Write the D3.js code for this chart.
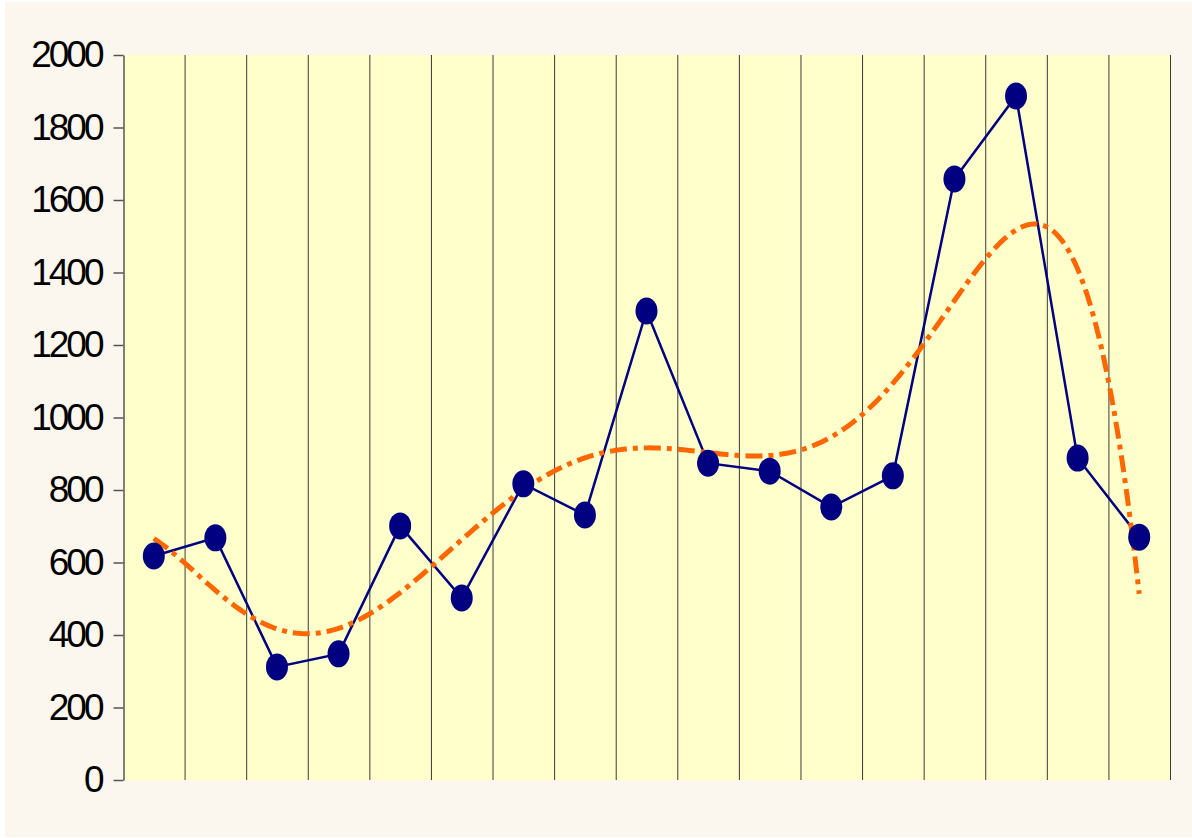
<!DOCTYPE html>
<html>
<head>
<meta charset="utf-8">
<script src="https://cdn.jsdelivr.net/npm/d3@7"></script>
<style>
  html, body { margin: 0; padding: 0; background: #ffffff; }
  svg { display: block; }
</style>
</head>
<body>
<div id="chart"></div>
<script>
// values, one per category (17 periods)
const categories = d3.range(1, 18)
const values = [618, 668, 312, 348, 701, 502, 817, 731, 1294, 874, 852, 753, 839, 1658, 1887, 888, 670]
const yTicks = [0, 200, 400, 600, 800, 1000, 1200, 1400, 1600, 1800, 2000]

const width = 1192, height = 838
const margin = ({ top: 55, right: 22, bottom: 58, left: 123 })

const svg = d3.select("#chart").append("svg")
    .attr("width", width)
    .attr("height", height)

// cream page with thin white edge
svg.append("rect")
    .attr("x", 5).attr("y", 2)
    .attr("width", width - 5).attr("height", height - 3)
    .attr("fill", "#fbf7ee")

const x = d3.scaleBand()
    .domain(categories)
    .range([margin.left, width - margin.right])
const y = d3.scaleLinear()
    .domain([0, 2000])
    .range([height - margin.bottom, margin.top])

// plot area
svg.append("rect")
    .attr("x", margin.left)
    .attr("y", margin.top)
    .attr("width", width - margin.right - margin.left)
    .attr("height", height - margin.bottom - margin.top)
    .attr("fill", "#ffffcc")

// vertical grid lines at category edges
svg.append("g")
    .selectAll("line")
    .data(categories)
    .join("line")
    .attr("x1", d => x(d) + x.bandwidth() + 0.5)
    .attr("x2", d => x(d) + x.bandwidth() + 0.5)
    .attr("y1", margin.top)
    .attr("y2", height - margin.bottom)
    .attr("stroke", "#3a3a3a")
    .attr("stroke-width", 1)

// y axis
const yAxis = svg.append("g")
    .attr("transform", `translate(${margin.left + 0.5},0)`)
    .call(d3.axisLeft(y).tickValues(yTicks).tickFormat(d3.format("d"))
        .tickSize(10).tickPadding(12).tickSizeOuter(0))
yAxis.select(".domain").attr("stroke", "#555").attr("stroke-width", 1.5)
yAxis.selectAll(".tick line").attr("stroke", "#555").attr("stroke-width", 1.5)
yAxis.selectAll(".tick text")
    .attr("fill", "#000")
    .style("font-family", "Liberation Sans, Arial, sans-serif")
    .style("font-size", "37px")
    .style("letter-spacing", "-3px")

// polynomial trend line (order 6), least squares on the values
const polyFit = (xs, ys, order) => {
    const n = order + 1
    const A = d3.range(n).map(() => new Array(n + 1).fill(0))
    xs.forEach((xv, k) => {
        const p = d3.range(2 * n).map(j => Math.pow(xv, j))
        for (let i = 0; i < n; i++) {
            for (let j = 0; j < n; j++) A[i][j] += p[i + j]
            A[i][n] += p[i] * ys[k]
        }
    })
    for (let c = 0; c < n; c++) {
        let piv = c
        for (let r = c + 1; r < n; r++) if (Math.abs(A[r][c]) > Math.abs(A[piv][c])) piv = r
        ;[A[c], A[piv]] = [A[piv], A[c]]
        for (let r = 0; r < n; r++) {
            if (r === c) continue
            const f = A[r][c] / A[c][c]
            for (let j = c; j <= n; j++) A[r][j] -= f * A[c][j]
        }
    }
    return d3.range(n).map(i => A[i][n] / A[i][i])
}
// scale x to [-1, 1] to keep the normal equations sane
const toU = d => (d - 9) / 8
const coef = polyFit(categories.map(toU), values, 6)
const trendAt = d => coef.reduce((s, c, i) => s + c * Math.pow(toU(d), i), 0)

const xc = d3.scaleLinear()
    .domain([0.5, 17.5])
    .range([margin.left, width - margin.right])
const trend = d3.range(1, 17.0001, 0.05).map(d => [d, trendAt(d)])

// series line
svg.append("path")
    .datum(values)
    .attr("fill", "none")
    .attr("stroke", "#000080")
    .attr("stroke-width", 2.5)
    .attr("d", d3.line()
        .x((d, i) => x(categories[i]) + x.bandwidth() / 2)
        .y(d => y(d)))

svg.append("path")
    .datum(trend)
    .attr("fill", "none")
    .attr("stroke", "#ff6600")
    .attr("stroke-width", 5)
    .attr("stroke-dasharray", "17 6 5 6")
    .attr("d", d3.line()
        .x(d => xc(d[0]))
        .y(d => y(d[1])))

// markers
svg.append("g")
    .selectAll("ellipse")
    .data(values)
    .join("ellipse")
    .attr("cx", (d, i) => x(categories[i]) + x.bandwidth() / 2)
    .attr("cy", d => y(d))
    .attr("rx", 11)
    .attr("ry", 13.5)
    .attr("fill", "#000080")
</script>
</body>
</html>
